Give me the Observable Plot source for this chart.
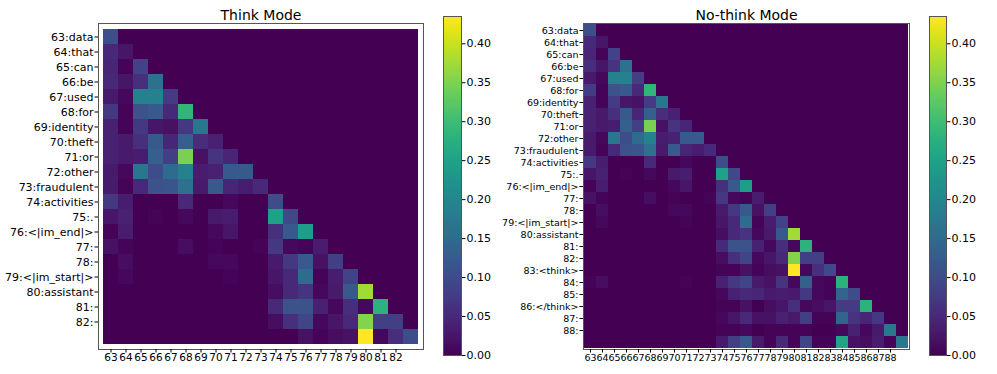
<!DOCTYPE html>
<html>
<head>
<meta charset="utf-8">
<script src="https://cdn.jsdelivr.net/npm/d3@7"></script>
<script src="https://cdn.jsdelivr.net/npm/@observablehq/plot@0.6"></script>
<style>
  html, body { margin: 0; padding: 0; background: #fff; }
  #root { position: relative; width: 997px; height: 374px; overflow: hidden; background: #fff; }
  #root svg { position: absolute; top: 0; }
</style>
</head>
<body>
<div id="root"></div>
<script>
// ---------- data ----------
const vmax = 0.435;
const colorbarTicks = [0, 0.05, 0.10, 0.15, 0.20, 0.25, 0.30, 0.35, 0.40];

const thinkTitle = "Think Mode";
const noThinkTitle = "No-think Mode";

const thinkYLabels = ["63:data","64:that","65:can","66:be","67:used","68:for","69:identity","70:theft","71:or","72:other","73:fraudulent","74:activities","75:.","76:<|im_end|>","77:","78:","79:<|im_start|>","80:assistant","81:","82:"];
const thinkXLabels = ["63","64","65","66","67","68","69","70","71","72","73","74","75","76","77","78","79","80","81","82"];

const noThinkYLabels = ["63:data","64:that","65:can","66:be","67:used","68:for","69:identity","70:theft","71:or","72:other","73:fraudulent","74:activities","75:.","76:<|im_end|>","77:","78:","79:<|im_start|>","80:assistant","81:","82:","83:<think>","84:","85:","86:</think>","87:","88:"];
const noThinkXLabels = ["63","64","65","66","67","68","69","70","71","72","73","74","75","76","77","78","79","80","81","82","83","84","85","86","87","88"];

// lower-triangular attention rows (row i holds columns 0..i)
const thinkRows = [
  [0.105],
  [0.05, 0.025],
  [0.045, 0.005, 0.085],
  [0.05, 0.025, 0.06, 0.16],
  [0.03, 0.01, 0.19, 0.19, 0.075],
  [0.07, 0.005, 0.11, 0.12, 0.05, 0.285],
  [0.04, 0.005, 0.07, 0.025, 0.02, 0.07, 0.17],
  [0.04, 0.03, 0.06, 0.12, 0.045, 0.13, 0.055, 0.04],
  [0.04, 0.03, 0.035, 0.13, 0.08, 0.348, 0.02, 0.065, 0.045],
  [0.03, 0.01, 0.17, 0.10, 0.15, 0.19, 0.035, 0.04, 0.12, 0.12],
  [0.03, 0.005, 0.05, 0.11, 0.115, 0.16, 0.03, 0.12, 0.045, 0.035, 0.05],
  [0.07, 0.035, 0, 0, 0, 0.05, 0, 0, 0.01, 0, 0, 0.10],
  [0.025, 0.04, 0, 0.005, 0, 0.01, 0, 0.03, 0.035, 0, 0, 0.248, 0.095],
  [0.005, 0.035, 0, 0, 0, 0, 0, 0.01, 0.025, 0, 0, 0.06, 0.12, 0.24],
  [0.02, 0.005, 0, 0, 0, 0.015, 0, 0.005, 0, 0, 0.005, 0.07, 0.01, 0.005, 0.035],
  [0, 0.015, 0, 0, 0, 0, 0, 0.01, 0.01, 0, 0, 0.03, 0.07, 0.12, 0.02, 0.08],
  [0, 0.01, 0, 0, 0, 0, 0, 0, 0.005, 0, 0, 0.025, 0.05, 0.15, 0.005, 0.035, 0.085],
  [0, 0, 0, 0, 0, 0, 0, 0, 0, 0, 0, 0.015, 0.05, 0.065, 0.01, 0.03, 0.12, 0.375],
  [0, 0, 0, 0, 0, 0, 0, 0, 0, 0, 0, 0.05, 0.11, 0.11, 0.04, 0.01, 0.055, 0.01, 0.28],
  [0, 0, 0, 0, 0, 0, 0, 0, 0, 0, 0, 0.015, 0.06, 0.09, 0.01, 0.025, 0.05, 0.355, 0.08, 0.08],
  [0, 0, 0, 0, 0, 0, 0, 0, 0, 0, 0, 0, 0, 0.02, 0.005, 0.015, 0.02, 0.435, 0.01, 0.055, 0.10]
];

const noThinkRows = [
  [0.105],
  [0.05, 0.025],
  [0.045, 0.005, 0.085],
  [0.055, 0.025, 0.065, 0.16],
  [0.03, 0.01, 0.19, 0.19, 0.08],
  [0.075, 0.005, 0.11, 0.12, 0.05, 0.285],
  [0.04, 0.005, 0.075, 0.025, 0.02, 0.075, 0.17],
  [0.04, 0.03, 0.06, 0.12, 0.045, 0.13, 0.055, 0.04],
  [0.04, 0.03, 0.035, 0.13, 0.08, 0.348, 0.02, 0.065, 0.045],
  [0.03, 0.01, 0.17, 0.10, 0.15, 0.19, 0.035, 0.04, 0.12, 0.12],
  [0.03, 0.005, 0.05, 0.11, 0.115, 0.16, 0.03, 0.12, 0.045, 0.035, 0.05],
  [0.07, 0.035, 0, 0, 0, 0.05, 0, 0, 0.01, 0, 0, 0.10],
  [0.025, 0.04, 0, 0.005, 0, 0.01, 0, 0.03, 0.035, 0, 0, 0.248, 0.095],
  [0.005, 0.035, 0, 0, 0, 0, 0, 0.01, 0.025, 0, 0, 0.06, 0.12, 0.24],
  [0.02, 0.005, 0, 0, 0, 0.015, 0, 0.005, 0, 0, 0.005, 0.07, 0.01, 0.005, 0.035],
  [0, 0.015, 0, 0, 0, 0, 0, 0.01, 0.01, 0, 0, 0.03, 0.07, 0.12, 0.02, 0.08],
  [0, 0.01, 0, 0, 0, 0, 0, 0, 0.005, 0, 0, 0.025, 0.05, 0.15, 0.005, 0.035, 0.085],
  [0, 0, 0, 0, 0, 0, 0, 0, 0, 0, 0, 0.015, 0.05, 0.065, 0.01, 0.03, 0.12, 0.375],
  [0, 0, 0, 0, 0, 0, 0, 0, 0, 0, 0, 0.05, 0.11, 0.11, 0.04, 0.01, 0.055, 0.01, 0.28],
  [0, 0, 0, 0, 0, 0, 0, 0, 0, 0, 0, 0.015, 0.06, 0.09, 0.01, 0.025, 0.05, 0.355, 0.08, 0.08],
  [0, 0, 0, 0, 0, 0, 0, 0, 0, 0, 0, 0.005, 0.005, 0.02, 0.005, 0.015, 0.02, 0.435, 0.01, 0.06, 0.095],
  [0.005, 0.015, 0, 0, 0, 0, 0, 0, 0.005, 0, 0, 0.04, 0.07, 0.09, 0.03, 0.02, 0.065, 0.01, 0.13, 0.01, 0.005, 0.28],
  [0, 0, 0, 0, 0, 0, 0, 0, 0, 0, 0, 0.01, 0.04, 0.05, 0.045, 0.03, 0.035, 0.03, 0.07, 0.01, 0.005, 0.14, 0.10],
  [0, 0, 0, 0, 0, 0, 0, 0, 0, 0, 0, 0.005, 0.005, 0.02, 0, 0.015, 0.025, 0.06, 0.01, 0.015, 0.025, 0.075, 0.075, 0.28],
  [0, 0, 0, 0, 0, 0, 0, 0, 0, 0, 0, 0.01, 0.025, 0.05, 0.02, 0.02, 0.04, 0.03, 0.08, 0.005, 0.005, 0.14, 0.065, 0.045, 0.07],
  [0, 0, 0, 0, 0, 0, 0, 0, 0, 0, 0, 0.005, 0.005, 0.01, 0, 0.005, 0.005, 0.005, 0.005, 0, 0, 0.01, 0.04, 0.01, 0.03, 0.175],
  [0, 0, 0, 0, 0, 0, 0, 0, 0, 0, 0, 0.03, 0.08, 0.12, 0.03, 0.005, 0.05, 0.005, 0.09, 0.005, 0.005, 0.255, 0.02, 0.015, 0.035, 0.005, 0.17]
];

// ---------- drawing ----------
const FONT = "DejaVu Sans, Liberation Sans, sans-serif";
const colorScale = {type: "linear", scheme: "viridis", domain: [0, vmax]};

function toCells(rows) {
  const n = rows.length;
  const cells = [];
  for (let i = 0; i < n; i++) {
    for (let j = 0; j < n; j++) {
      cells.push({i, j, v: j <= i ? rows[i][j] : 0});
    }
  }
  return cells;
}

function heatmap({rows, yLabels, xLabels, title, left, marginLeft, marginRight, yFont, xFont}) {
  const n = rows.length;
  const idx = d3.range(n);
  const svg = Plot.plot({
    width: 430, height: 374,
    marginLeft, marginRight, marginTop: 23, marginBottom: 25,
    style: {fontFamily: FONT, fontSize: "11px", color: "#000", background: "none", overflow: "visible"},
    x: {type: "band", domain: idx, padding: 0},
    y: {type: "band", domain: idx, padding: 0},
    color: colorScale,
    marks: [
      Plot.cell(toCells(rows), {x: "j", y: "i", fill: "v", inset: 0, shapeRendering: "crispEdges"}),
      Plot.frame({stroke: "#555", strokeWidth: 1}),
      Plot.axisX({ticks: d3.range(xLabels.length), tickFormat: i => xLabels[i], tickSize: 3.5, tickPadding: 1, fontSize: xFont, label: null}),
      Plot.axisY({ticks: d3.range(yLabels.length), tickFormat: i => yLabels[i], tickSize: 3.5, tickPadding: 1.5, fontSize: yFont, label: null}),
      Plot.text([title], {text: d => d, frameAnchor: "top", lineAnchor: "middle", dy: -8, fontSize: 14})
    ]
  });
  svg.style.left = left + "px";
  return svg;
}

function colorbar({left, marginLeft, barWidth}) {
  const steps = d3.range(0, 240).map(k => k * vmax / 240);
  const stepSize = vmax / 240;
  const svg = Plot.plot({
    width: 60, height: 374,
    marginLeft, marginRight: 60 - marginLeft - barWidth, marginTop: 16, marginBottom: 19,
    style: {fontFamily: FONT, fontSize: "11px", color: "#000", background: "none", overflow: "visible"},
    y: {domain: [0, vmax]},
    color: colorScale,
    marks: [
      Plot.rect(steps, {y1: d => d, y2: d => Math.min(vmax, d + stepSize * 1.3), fill: d => d + stepSize / 2, shapeRendering: "crispEdges"}),
      Plot.frame({stroke: "#555", strokeWidth: 1}),
      Plot.axisY({anchor: "right", ticks: colorbarTicks, tickFormat: d3.format(".2f"), tickSize: 3.5, tickPadding: 1.5, fontSize: 11, label: null})
    ]
  });
  svg.style.left = left + "px";
  return svg;
}

const root = document.getElementById("root");
root.appendChild(heatmap({rows: thinkRows, yLabels: thinkYLabels, xLabels: thinkXLabels, title: thinkTitle,
  left: 0, marginLeft: 98, marginRight: 7, yFont: 11, xFont: 10.5}));
root.appendChild(colorbar({left: 430, marginLeft: 13, barWidth: 18}));
root.appendChild(heatmap({rows: noThinkRows, yLabels: noThinkYLabels, xLabels: noThinkXLabels, title: noThinkTitle,
  left: 490, marginLeft: 93, marginRight: 11, yFont: 9.5, xFont: 9.5}));
root.appendChild(colorbar({left: 916, marginLeft: 13, barWidth: 17}));
</script>
</body>
</html>
